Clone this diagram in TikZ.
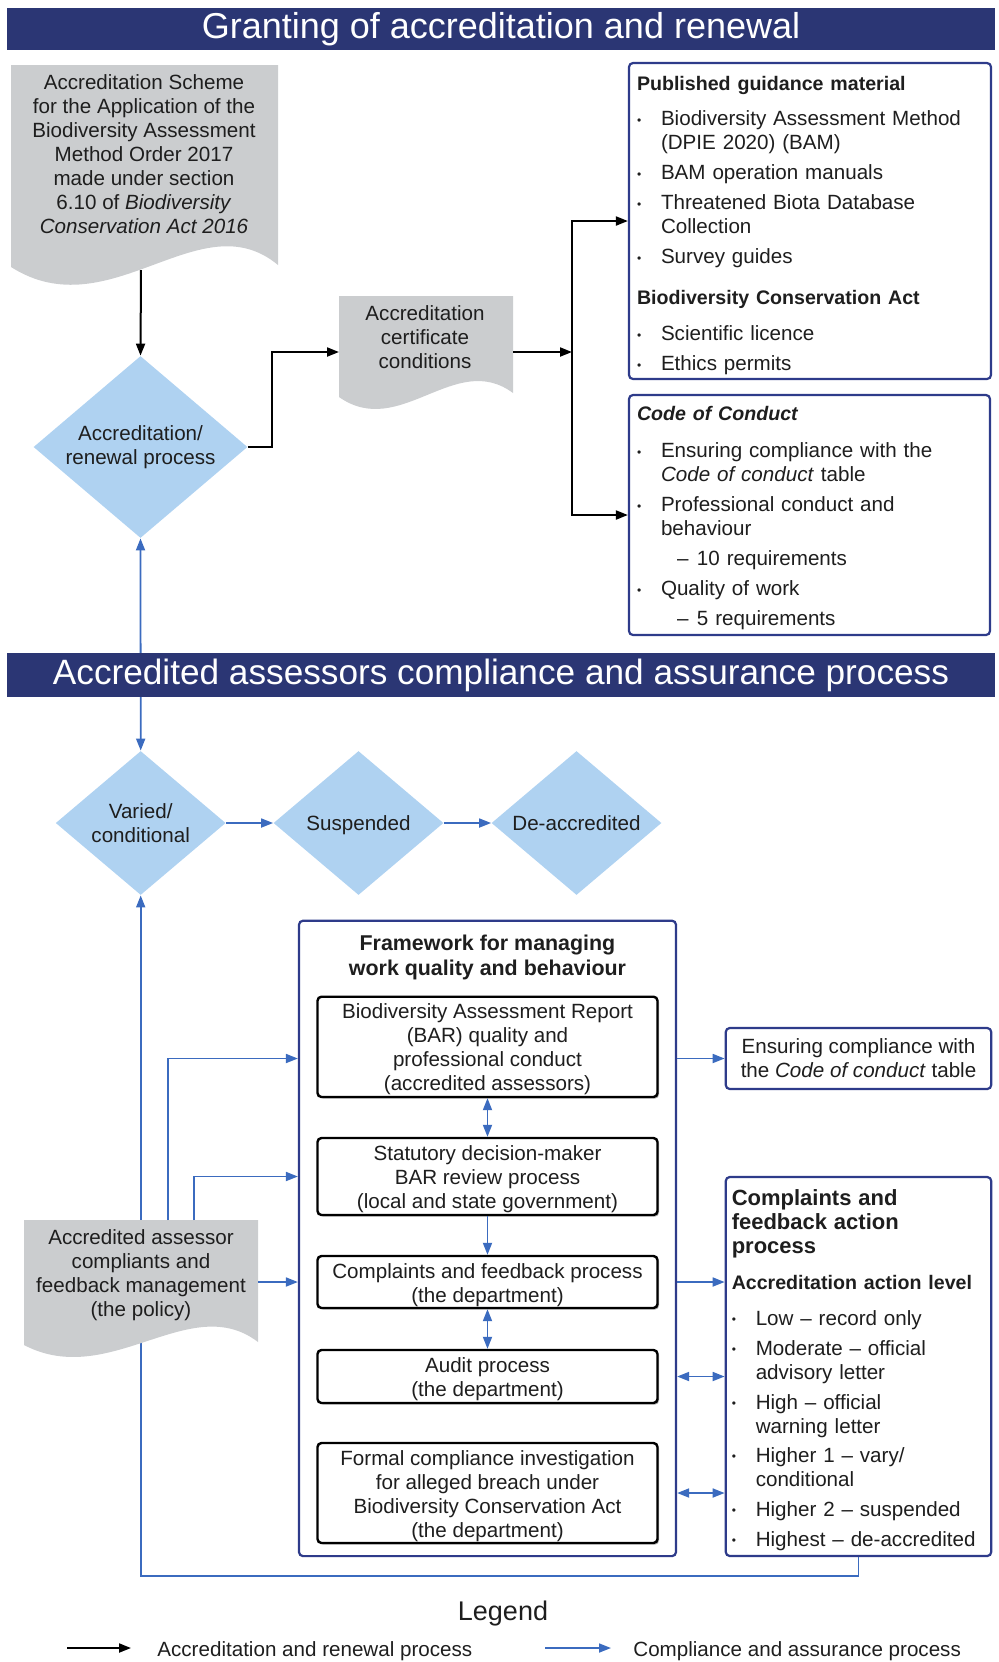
\documentclass[tikz,border=0pt]{standalone}
\usepackage{fontspec}
\setmainfont{Liberation Sans}
\usetikzlibrary{arrows.meta,shapes.geometric,shadows}
\definecolor{bannerblue}{HTML}{2B3674}
\definecolor{framenavy}{HTML}{2E3B8A}
\definecolor{linkblue}{HTML}{3B6BBF}
\definecolor{diamondblue}{HTML}{AFD2F1}
\definecolor{docgrey}{HTML}{CBCDCF}
\definecolor{inktext}{HTML}{1E1E1E}
\newcommand{\bul}{\makebox[12pt][l]{\raisebox{0.6pt}{\fontsize{6}{6}\selectfont\textbullet}}}
\newcommand{\bulcont}{\hspace*{12pt}}
\newcommand{\subdash}{\hspace*{20pt}\makebox[10pt][l]{\textendash}}
\newcommand{\hd}[1]{{\fontsize{9.8}{12}\selectfont\bfseries #1}}
\newcommand{\headroom}[1]{\rule{0pt}{#1}}
\begin{document}
\begin{tikzpicture}[x=0.5pt, y=-0.5pt,
        every node/.style={font=\fontsize{10.3}{12}\selectfont, text=inktext},
        banner/.style={fill=bannerblue, text=white, minimum width=494pt, inner sep=0pt},
        decision/.style={diamond, fill=diamondblue, inner sep=0pt, align=center, aspect=1.18},
        panel/.style={draw=framenavy, line width=1.1pt, rounded corners=2pt, fill=white},
        stage/.style={draw=black, line width=1.2pt, rounded corners=2pt, fill=white, align=center, minimum width=170pt, inner sep=0pt,
                drop shadow={shadow xshift=0.8pt, shadow yshift=-0.8pt, opacity=0.3, fill=black}},
        grant/.style={draw=black, line width=1pt, -{Triangle[length=6pt,width=4.5pt]}},
        assure/.style={draw=linkblue, line width=0.9pt, -{Triangle[length=6pt,width=4.5pt]}},
        assure2/.style={assure, {Triangle[length=6pt,width=4.5pt]}-{Triangle[length=6pt,width=4.5pt]}}]

        \useasboundingbox (0,0) rectangle (999,1662);

        \fill[docgrey] (11,65) -- (278,65) -- (278,265) .. controls (200,200) and (110,330) .. (11,267) -- cycle;
        \node (scheme) [align=center] at (144,154.5) {Accreditation Scheme\\for the Application of the\\Biodiversity Assessment\\Method Order 2017\\made under section\\6.10 of \textit{Biodiversity}\\\textit{Conservation Act 2016}};
        \coordinate (schemefoot) at (141,270);

        \node (accr) [decision, minimum width=107pt, minimum height=91pt] at (140.5,447) {Accreditation/\\renewal process};
        \draw[grant] (schemefoot) -- (accr.north);

        \fill[docgrey] (339,296) -- (513,296) -- (513,393) .. controls (455,350) and (400,440) .. (339,397) -- cycle;
        \node (cert) [align=center] at (425,337.5) {Accreditation\\certificate\\conditions};
        \coordinate (certin) at (339,352);
        \coordinate (certout) at (513,352);
        \coordinate (split) at (572,352);

        \node (guide) [panel, minimum width=181pt, minimum height=158pt, text width=173pt, inner xsep=4pt, inner ysep=0pt, align=left] at (810,221) {%
                \headroom{12pt}\hd{Published guidance material}\\[5.5pt]
                \bul Biodiversity Assessment Method\\
                \bulcont (DPIE 2020) (BAM)\\[3pt]
                \bul BAM operation manuals\\[3pt]
                \bul Threatened Biota Database\\
                \bulcont Collection\\[3pt]
                \bul Survey guides\\[8.5pt]
                \hd{Biodiversity Conservation Act}\\[6pt]
                \bul Scientific licence\\[3pt]
                \bul Ethics permits};

        \node (coc) [panel, minimum width=180.5pt, minimum height=120pt, text width=172.5pt, inner xsep=4pt, inner ysep=0pt, align=left] at (809.5,515) {%
                \headroom{10.1pt}\hd{\textit{Code of Conduct}}\\[6.5pt]
                \bul Ensuring compliance with the\\
                \bulcont\textit{Code of conduct} table\\[3pt]
                \bul Professional conduct and\\
                \bulcont behaviour\\[3pt]
                \subdash 10 requirements\\[3pt]
                \bul Quality of work\\[3pt]
                \subdash 5 requirements};

        \draw[grant] (accr.east) -- ++(24,0) |- (certin);
        \draw[grant] (certout) -- (split);
        \draw[grant] (split) |- (guide.west);
        \draw[grant] (split) |- (coc.west);

        \node (varied) [decision, minimum width=85pt, minimum height=72pt] at (140.7,823) {Varied/\\conditional};
        \node (susp) [decision, minimum width=85pt, minimum height=72pt, text depth=0pt] at (358.5,823) {Suspended};
        \node (deacc) [decision, minimum width=85pt, minimum height=72pt, text depth=0pt] at (576.5,823) {De-accredited};
        \draw[assure] (varied.east) -- (susp.west);
        \draw[assure] (susp.east) -- (deacc.west);
        \draw[assure2] (accr.south) -- (varied.north);

        \node (grantbar) [banner, minimum height=21pt, font=\fontsize{18}{20}\selectfont] at (501,29) {Granting of accreditation and renewal};
        \node (assurebar) [banner, minimum height=22pt, font=\fontsize{17.6}{20}\selectfont] at (501,675) {Accredited assessors compliance and assurance process};

        \node (fw) [panel, minimum width=188.5pt, minimum height=317.7pt, inner sep=0pt] at (487.5,1238.4) {};
        \node (fwtitle) [align=center, font=\fontsize{10.7}{12.5}\selectfont\bfseries] at (487.5,957.5) {Framework for managing\\work quality and behaviour};

        \node (bar) [stage, minimum height=50.15pt] at (487.5,1046.85) {\headroom{10.2pt}Biodiversity Assessment Report\\(BAR) quality and\\professional conduct\\(accredited assessors)};
        \node (stat) [stage, minimum height=38.5pt] at (487.5,1176.5) {\headroom{10.2pt}Statutory decision-maker\\BAR review process\\(local and state government)};
        \node (cfp) [stage, minimum height=26pt] at (487.5,1282) {\headroom{10.2pt}Complaints and feedback process\\(the department)};
        \node (audit) [stage, minimum height=26.5pt] at (487.5,1376.5) {\headroom{10.2pt}Audit process\\(the department)};
        \node (formal) [stage, minimum height=50pt] at (487.5,1493) {\headroom{10.2pt}Formal compliance investigation\\for alleged breach under\\Biodiversity Conservation Act\\(the department)};

        \draw[assure2] (bar) -- (stat);
        \draw[assure] (stat) -- (cfp);
        \draw[assure2] (cfp) -- (audit);

        \node (ecc) [panel, minimum width=132.75pt, minimum height=30.5pt, align=center, inner sep=0pt] at (858.5,1058.5) {Ensuring compliance with\\the \textit{Code of conduct} table};

        \node (cfa) [panel, minimum width=132.75pt, minimum height=189.5pt, text width=126.75pt, inner xsep=3pt, inner ysep=0pt, align=left] at (858.5,1366.5) {%
                \headroom{11.2pt}{\fontsize{11}{12}\selectfont\bfseries Complaints and}\\
                {\fontsize{11}{12}\selectfont\bfseries feedback action}\\
                {\fontsize{11}{12}\selectfont\bfseries process}\\[6pt]
                \hd{Accreditation action level}\\[6pt]
                \bul Low \textendash{} record only\\[3pt]
                \bul Moderate \textendash{} official\\
                \bulcont advisory letter\\[3pt]
                \bul High \textendash{} official\\
                \bulcont warning letter\\[2.5pt]
                \bul Higher 1 \textendash{} vary/\\
                \bulcont conditional\\[3pt]
                \bul Higher 2 \textendash{} suspended\\[3pt]
                \bul Highest \textendash{} de-accredited};

        \draw[assure] (fw.east |- ecc.west) -- (ecc.west);
        \draw[assure] (fw.east |- cfp) -- (cfp -| cfa.west);
        \draw[assure2] (fw.east |- audit) -- (audit -| cfa.west);
        \draw[assure2] (fw.east |- formal) -- (formal -| cfa.west);

        \draw[assure] (cfa.south) -- ++(0,19) -| (varied.south);

        \fill[docgrey] (24,1220) -- (258,1220) -- (258,1342) .. controls (190,1290) and (110,1390) .. (24,1345) -- cycle;
        \node (policy) [align=center] at (141,1275) {Accredited assessor\\compliants and\\feedback management\\(the policy)};
        \coordinate (polA) at (168,1220);
        \coordinate (polB) at (194,1220);
        \coordinate (polC) at (258,1282);
        \draw[assure] (polA) |- (fw.west |- ecc.west);
        \draw[assure] (polB) |- (fw.west |- stat);
        \draw[assure] (polC) -- (fw.west |- polC);

        \node (legend) [font=\fontsize{13.5}{15}\selectfont] at (503,1613) {Legend};
        \coordinate (keyAs) at (67,1648);
        \coordinate (keyAe) at (131,1648);
        \draw[grant] (keyAs) -- (keyAe);
        \node (keyA) [anchor=west, inner sep=0pt] at (157,1651) {Accreditation and renewal process};
        \coordinate (keyBs) at (545,1648);
        \coordinate (keyBe) at (611,1648);
        \draw[assure] (keyBs) -- (keyBe);
        \node (keyB) [anchor=west, inner sep=0pt] at (633,1651) {Compliance and assurance process};

\end{tikzpicture}
\end{document}
